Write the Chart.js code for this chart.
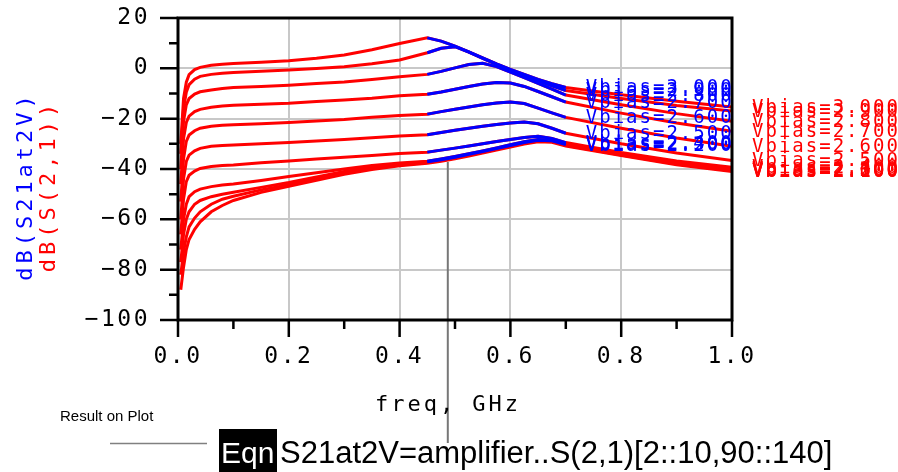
<!DOCTYPE html>
<html>
<head>
<meta charset="utf-8">
<script src="https://cdn.jsdelivr.net/npm/chart.js@4.4.1/dist/chart.umd.min.js"></script>
<style>
html, body { margin: 0; padding: 0; background: #fff; }
canvas { display: block; }
</style>
</head>
<body>
<canvas id="myChart" width="898" height="472"></canvas>
<script>
// frequency sweep, GHz
const freqGHz = [0.005, 0.01, 0.015, 0.02, 0.03, 0.04, 0.06, 0.08, 0.1, 0.15, 0.2, 0.25, 0.3, 0.35, 0.4,
    0.45, 0.475, 0.5, 0.525, 0.55, 0.575, 0.6, 0.625, 0.65, 0.675, 0.7, 0.8, 0.9, 1.0];

const vbias = [3.0, 2.9, 2.8, 2.7, 2.6, 2.5, 2.4, 2.3, 2.2, 2.1, 2.0];

// dB(S(2,1)) for each Vbias
const s21_300 = [-30, -12, -5.5, -2.5, -0.5, 0.4, 1.2, 1.6, 1.9, 2.4, 3.0, 4.0, 5.3, 7.4, 9.9,
    12.1, 10.8, 8.8, 6.5, 4.2, 1.8, -0.4, -2.4, -4.4, -6.1, -7.6, -10.5, -13.1, -15.4];
const s21_290 = [-34, -16, -9.5, -6.5, -4.3, -3.2, -2.4, -2.0, -1.7, -1.2, -0.7, -0.1, 0.6, 1.8, 3.3,
    6.2, 8.0, 8.6, 6.4, 4.0, 1.6, -0.7, -2.9, -5.0, -7.0, -8.8, -12.0, -14.8, -17.0];
const s21_280 = [-40, -21, -14.5, -12, -10.2, -9.3, -8.6, -8.0, -7.6, -7.2, -6.7, -6.0, -5.4, -4.4, -3.3,
    -2.4, -1.2, 0.2, 1.5, 2.0, 0.7, -1.5, -3.7, -6.0, -8.3, -10.6, -14.5, -18.0, -21.0];
const s21_270 = [-46, -28, -21.5, -19, -17.2, -16.3, -15.5, -15.0, -14.7, -14.3, -13.9, -13.2, -12.6, -11.9, -10.9,
    -10.3, -9.4, -8.3, -7.2, -6.2, -5.6, -5.8, -7.2, -9.2, -11.3, -13.4, -17.8, -21.7, -25.0];
const s21_260 = [-53, -36, -29, -26.5, -24.8, -23.8, -23.0, -22.6, -22.4, -22.0, -21.5, -20.9, -20.3, -19.4, -18.7,
    -18.2, -17.2, -16.3, -15.4, -14.5, -13.8, -13.4, -14.0, -15.8, -17.7, -19.5, -23.8, -27.7, -31.0];
const s21_250 = [-60, -44, -37, -34.5, -32.8, -31.8, -31.0, -30.7, -30.5, -30.0, -29.5, -28.9, -28.3, -27.6, -26.9,
    -26.4, -25.5, -24.6, -23.8, -23.0, -22.3, -21.7, -21.3, -22.0, -23.8, -25.8, -30.0, -33.6, -36.6];
const s21_240 = [-66, -52, -45, -42.5, -40.8, -39.8, -39.0, -38.6, -38.4, -37.5, -36.8, -36.0, -35.3, -34.6, -33.8,
    -33.3, -32.5, -31.7, -30.9, -30.0, -29.1, -28.3, -27.5, -27.0, -27.9, -29.5, -33.4, -36.8, -39.3];
const s21_230 = [-72, -60, -54, -51, -49, -48, -47, -46.4, -46.0, -44.6, -43.0, -41.5, -40.0, -38.6, -37.6,
    -36.9, -36.0, -35.0, -33.9, -32.8, -31.6, -30.4, -29.2, -28.3, -28.6, -30.0, -33.9, -37.4, -39.9];
const s21_220 = [-77, -66, -60, -57, -54, -52.5, -51, -50, -49.2, -47.3, -45.4, -43.2, -41.0, -39.3, -38.0,
    -37.1, -36.3, -35.3, -34.2, -33.1, -31.9, -30.7, -29.5, -28.6, -28.8, -30.3, -34.2, -37.7, -40.3];
const s21_210 = [-82, -73, -67, -63, -59.5, -57, -54, -52, -50.8, -48.3, -46.2, -43.9, -41.6, -39.8, -38.4,
    -37.4, -36.6, -35.6, -34.5, -33.4, -32.2, -31.0, -29.8, -28.9, -29.1, -30.6, -34.4, -38.0, -40.7];
const s21_200 = [-88, -79, -72, -68, -64, -61, -57, -54.5, -52.5, -49.3, -46.9, -44.5, -42.1, -40.2, -38.7,
    -37.7, -36.9, -35.9, -34.8, -33.7, -32.5, -31.3, -30.1, -29.2, -29.4, -30.9, -34.6, -38.3, -41.0];

const s21Rows = [s21_300, s21_290, s21_280, s21_270, s21_260, s21_250, s21_240, s21_230, s21_220, s21_210, s21_200];

// S21at2V = amplifier..S(2,1)[2::10, 90::140] -> Vbias 3.0 .. 2.2, freq 0.45 .. 0.70
const eqnFirst = freqGHz.indexOf(0.45);
const eqnLast = freqGHz.indexOf(0.7);
const eqnCount = 9;

const xTicks = [0, 0.2, 0.4, 0.6, 0.8, 1.0];
const markerFreq = 0.487;
const markerDb = -37.2;

const RED = '#ff0000';
const BLUE = '#0000ff';
const MONO = '"DejaVu Sans Mono", monospace';
const SANS = '"Liberation Sans", Arial, sans-serif';

const redSets = s21Rows.map((row, i) => ({
    label: 'dB(S(2,1)) Vbias=' + vbias[i].toFixed(3),
    data: freqGHz.map((f, k) => ({ x: f, y: row[k] })),
    borderColor: RED,
    borderWidth: 3,
    pointRadius: 0,
    tension: 0
}));

const blueSets = s21Rows.slice(0, eqnCount).map((row, i) => ({
    label: 'dB(S21at2V) Vbias=' + vbias[i].toFixed(3),
    data: freqGHz.slice(eqnFirst, eqnLast + 1).map((f, k) => ({ x: f, y: row[eqnFirst + k] })),
    borderColor: BLUE,
    borderWidth: 3,
    pointRadius: 0,
    tension: 0
}));

const adsDecor = {
    id: 'adsDecor',
    beforeDraw(chart) {
        chart.ctx.letterSpacing = '2.5px';
    },
    afterDraw(chart) {
        const ctx = chart.ctx;
        const a = chart.chartArea;
        const xs = chart.scales.x;
        const ys = chart.scales.y;
        ctx.save();

        // marker line from the trace down to the equation
        ctx.strokeStyle = '#777777';
        ctx.lineWidth = 2;
        ctx.beginPath();
        ctx.moveTo(xs.getPixelForValue(markerFreq), ys.getPixelForValue(markerDb));
        ctx.lineTo(xs.getPixelForValue(markerFreq), 443);
        ctx.stroke();

        // frame
        ctx.strokeStyle = '#000';
        ctx.lineWidth = 3;
        ctx.strokeRect(a.left, a.top, a.right - a.left, a.bottom - a.top);

        // tick marks, major and minor
        ctx.lineWidth = 2.5;
        ctx.beginPath();
        for (let k = 0; k <= 12; k++) {
            const v = -100 + 10 * k;
            const len = v % 20 === 0 ? 18 : 9;
            const py = ys.getPixelForValue(v);
            ctx.moveTo(a.left - len, py);
            ctx.lineTo(a.left, py);
        }
        for (let k = 0; k <= 10; k++) {
            const len = k % 2 === 0 ? 17 : 9;
            const px = xs.getPixelForValue(k / 10);
            ctx.moveTo(px, a.bottom);
            ctx.lineTo(px, a.bottom + len);
        }
        ctx.stroke();

        // axis titles
        ctx.font = '22px ' + MONO;
        ctx.letterSpacing = '4px';
        ctx.textAlign = 'center';
        ctx.textBaseline = 'middle';
        const midY = (a.top + a.bottom) / 2 + 17;
        ctx.save();
        ctx.translate(26, midY);
        ctx.rotate(-Math.PI / 2);
        ctx.fillStyle = BLUE;
        ctx.fillText('dB(S21at2V)', 0, 0);
        ctx.restore();
        ctx.save();
        ctx.translate(49, midY);
        ctx.rotate(-Math.PI / 2);
        ctx.fillStyle = RED;
        ctx.fillText('dB(S(2,1))', 0, 0);
        ctx.restore();

        ctx.letterSpacing = '3px';
        ctx.fillStyle = '#000';
        ctx.fillText('freq, GHz', 448, 405);

        // trace-end labels
        ctx.font = '19px ' + MONO;
        ctx.letterSpacing = '2px';
        ctx.textAlign = 'left';
        ctx.fillStyle = RED;
        s21Rows.forEach((row, i) => {
            const last = row.length - 1;
            ctx.fillText('Vbias=' + vbias[i].toFixed(3),
                xs.getPixelForValue(freqGHz[last]) + 20, ys.getPixelForValue(row[last]) + 1);
        });
        ctx.fillStyle = BLUE;
        s21Rows.slice(0, eqnCount).forEach((row, i) => {
            ctx.fillText('Vbias=' + vbias[i].toFixed(3),
                xs.getPixelForValue(freqGHz[eqnLast]) + 20, ys.getPixelForValue(row[eqnLast]) + 1);
        });

        // equation footer
        ctx.letterSpacing = '0px';
        ctx.textBaseline = 'alphabetic';
        ctx.fillStyle = '#000';
        ctx.font = '15px ' + SANS;
        ctx.fillText('Result on Plot', 60, 421);

        ctx.strokeStyle = '#808080';
        ctx.lineWidth = 1.5;
        ctx.beginPath();
        ctx.moveTo(110, 443.5);
        ctx.lineTo(207, 443.5);
        ctx.stroke();

        ctx.fillStyle = '#000';
        ctx.fillRect(219, 429, 58, 43);
        ctx.font = '30px ' + SANS;
        ctx.fillStyle = '#fff';
        ctx.fillText('Eqn', 221, 463);
        ctx.fillStyle = '#000';
        ctx.font = '31px ' + SANS;
        ctx.fillText('S21at2V=amplifier..S(2,1)[2::10,90::140]', 280, 463);

        ctx.restore();
    }
};

const gridColor = (c) => {
    const v = c.tick.value;
    return (v === c.scale.min || v === c.scale.max) ? 'rgba(0,0,0,0)' : '#c8c8c8';
};

new Chart(document.getElementById('myChart'), {
    type: 'line',
    data: { datasets: blueSets.concat(redSets) },
    options: {
        responsive: false,
        animation: false,
        events: [],
        layout: { autoPadding: false, padding: { left: 0, top: 18, right: 166, bottom: 0 } },
        plugins: { legend: { display: false }, tooltip: { enabled: false } },
        scales: {
            x: {
                type: 'linear',
                min: 0,
                max: 1,
                afterFit: (scale) => {
                    scale.height = 152;
                    scale.paddingLeft = 0;
                    scale.paddingRight = 0;
                },
                afterBuildTicks: (scale) => { scale.ticks = xTicks.map(v => ({ value: v })); },
                grid: { color: gridColor, lineWidth: 2, drawTicks: false },
                border: { display: false },
                ticks: {
                    maxRotation: 0,
                    padding: 23,
                    color: '#000',
                    font: { family: 'DejaVu Sans Mono', size: 23 },
                    callback: (v) => Number(v).toFixed(1)
                }
            },
            y: {
                min: -100,
                max: 20,
                afterFit: (scale) => {
                    scale.width = 178;
                    scale.paddingTop = 0;
                    scale.paddingBottom = 0;
                },
                grid: { color: gridColor, lineWidth: 2, drawTicks: false },
                border: { display: false },
                ticks: {
                    stepSize: 20,
                    padding: 28,
                    color: '#000',
                    font: { family: 'DejaVu Sans Mono', size: 23 },
                    callback: (v) => v < 0 ? '\u2212' + (-v) : String(v)
                }
            }
        }
    },
    plugins: [adsDecor]
});
</script>
</body>
</html>
